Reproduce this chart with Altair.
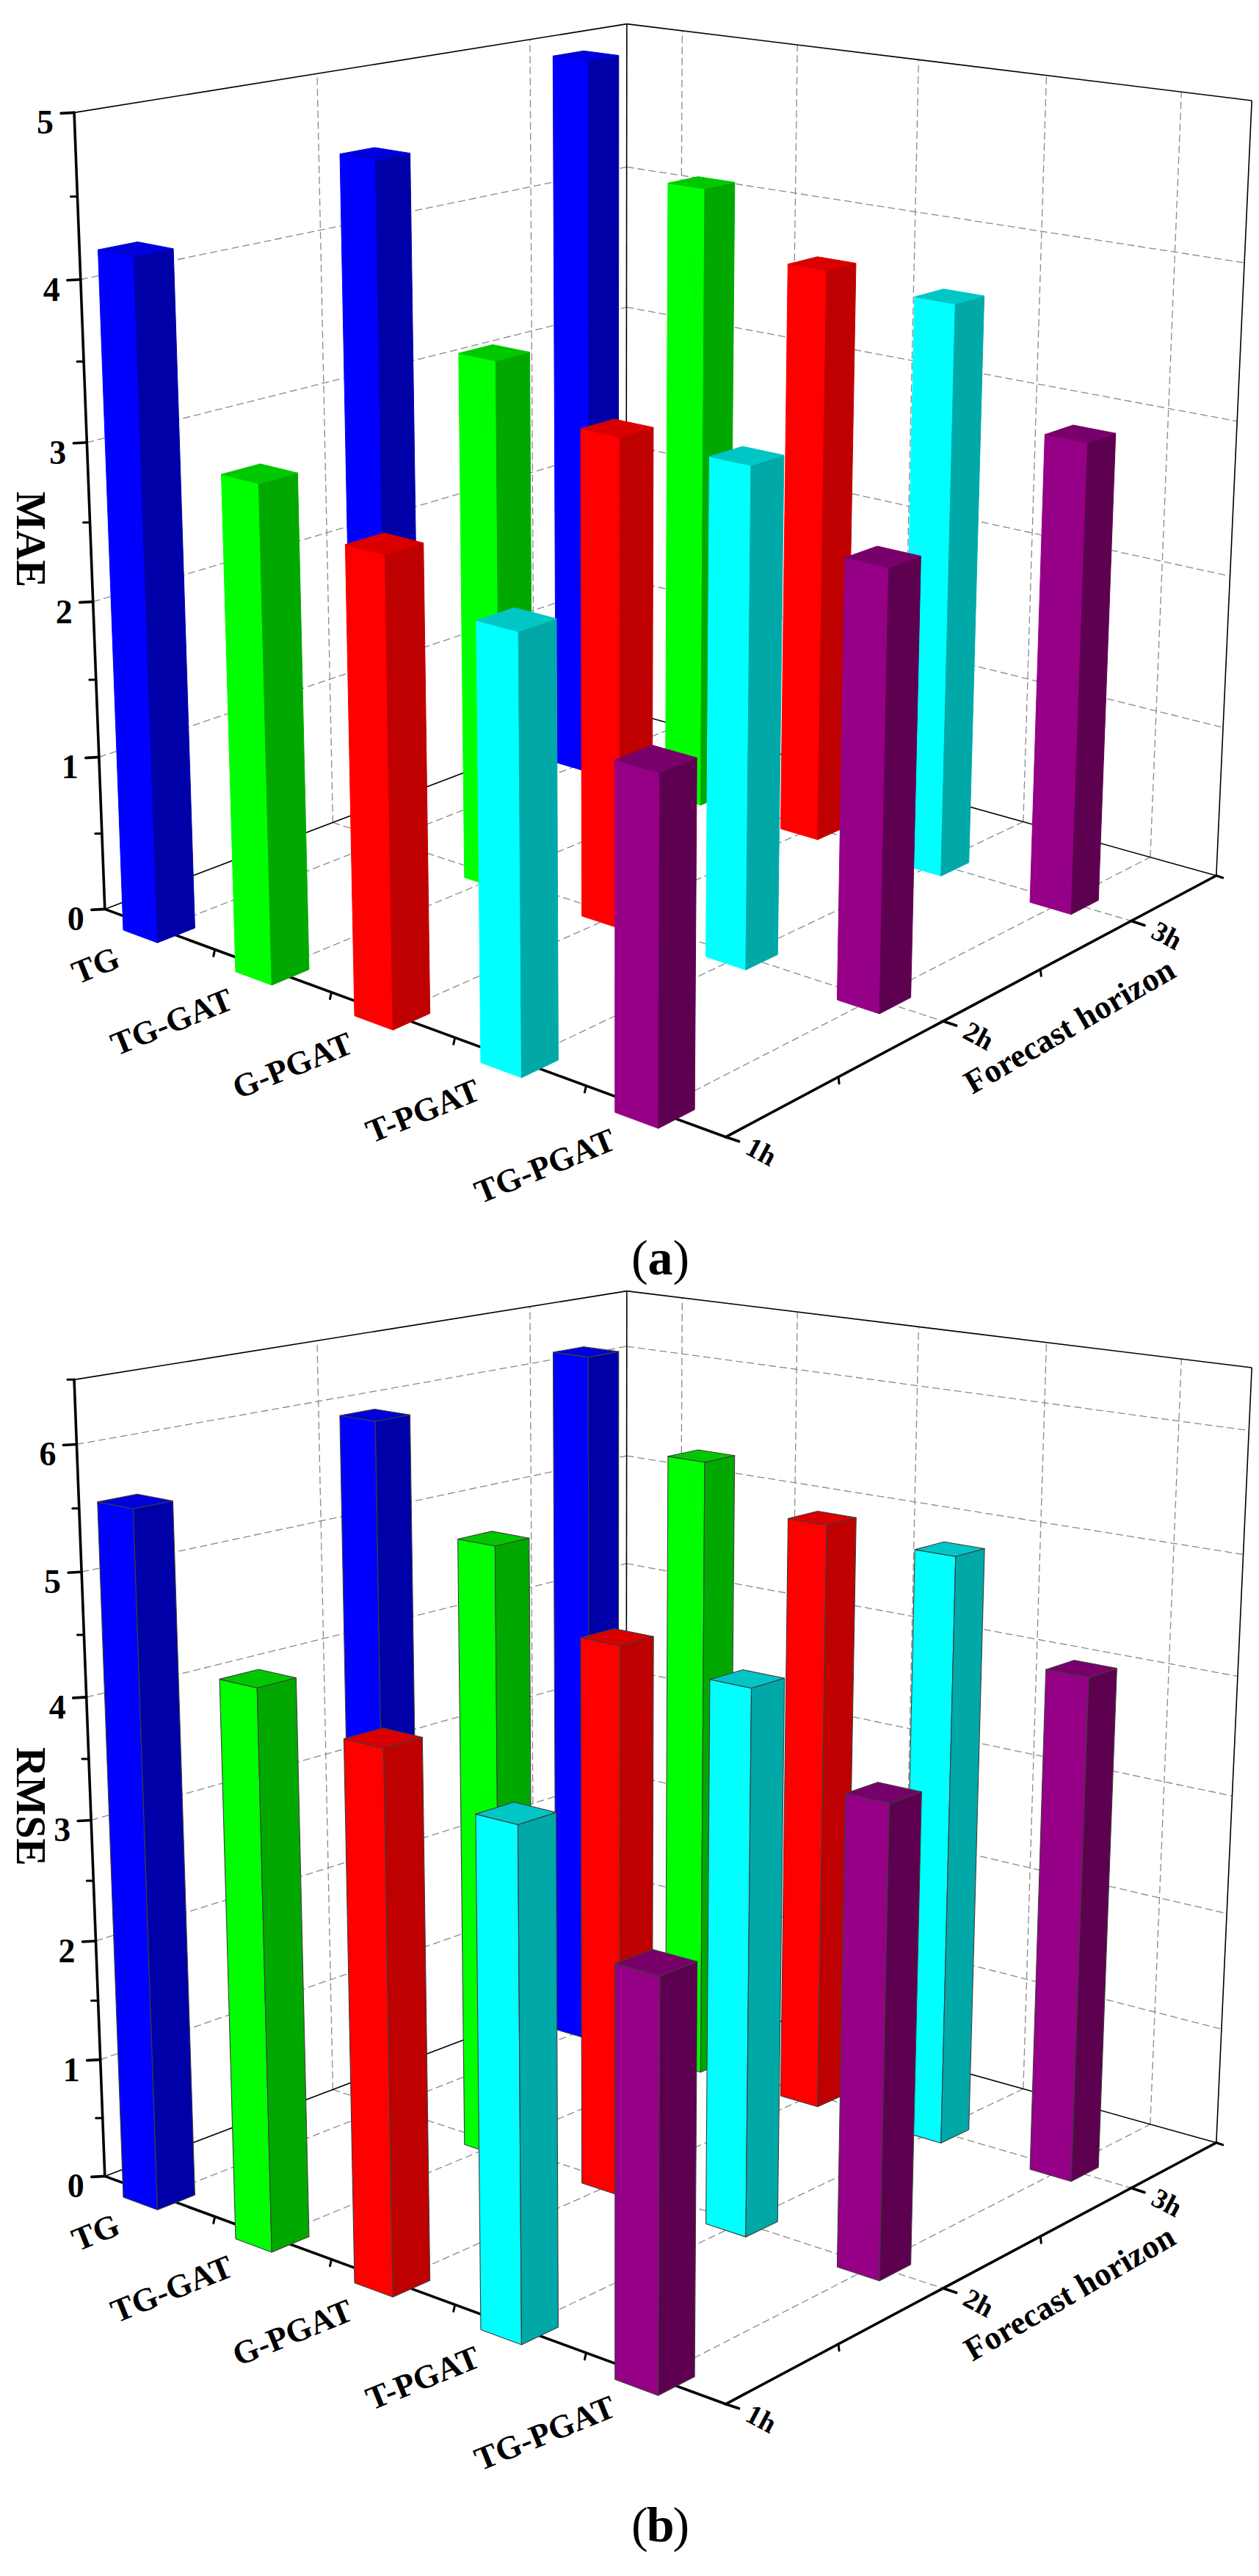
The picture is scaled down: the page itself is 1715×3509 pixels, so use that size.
import numpy as np
import pandas as pd
import altair as alt

alt.data_transformers.disable_max_rows()

# ---------------- data ----------------
models = ["TG", "TG-GAT", "G-PGAT", "T-PGAT", "TG-PGAT"]
horizons = ["1h", "2h", "3h"]

mae_1h = [4.25, 3.07, 2.84, 2.60, 2.03]
mae_2h = [4.55, 3.43, 3.12, 3.12, 2.70]
mae_3h = [4.94, 4.21, 3.81, 3.74, 3.03]

rmse_1h = [5.64, 4.47, 4.24, 3.92, 3.10]
rmse_2h = [5.96, 5.12, 4.52, 4.40, 3.75]
rmse_3h = [6.17, 5.42, 5.06, 4.98, 4.20]

mae_ticks = [0, 1, 2, 3, 4, 5]
rmse_ticks = [0, 1, 2, 3, 4, 5, 6]
mae_max = 5.0
rmse_max = 6.5

# ---------------- style ----------------
front_cols = ["#0000FF", "#00FF00", "#FF0000", "#00FFFF", "#960086"]
side_cols = ["#0000A8", "#00A800", "#BE0000", "#00A8A8", "#5E0050"]
top_cols = ["#0000DA", "#00C800", "#DA0000", "#00C6C6", "#78006B"]
FONT = "Liberation Serif"

W, H = 1699, 3490          # plot area (page minus 8px margins)
PANEL_B_SHIFT = 1726       # vertical offset of panel (b)
WX, WY = 0.155, 0.077      # bar half-width (model dir) / half-depth (horizon dir)
BOX_TOP = 5.0              # box height in box units

# 3D box extent: model axis 0.5..5.5, horizon axis 1..3.5, height 0..5
X0, X1 = 0.5, len(models) + 0.5
Y0, Y1 = 1.0, len(horizons) + 0.5

# Camera calibration: box reference points (box units) -> page pixels
anchor_world = [
    (0.5, 1, 0), (0.5, 1, 2), (0.5, 1, 3), (0.5, 3.5, 5), (0.5, 3.5, 4),
    (0.5, 3.5, 3), (0.5, 3.5, 0), (1, 3.5, 5), (2, 3.5, 5), (3, 3.5, 5),
    (4, 3.5, 5), (5, 3.5, 5), (5.5, 3.5, 5), (5.5, 3.5, 4), (5.5, 3.5, 1),
    (5.5, 3.5, 0), (5.5, 1, 0), (5.5, 2, 0), (5.5, 3, 0), (5, 3.5, 0),
    (1.5, 1, 0), (2.5, 1, 0), (5.5, 1.5, 0), (5.5, 2.5, 0), (0.5, 1, 5),
    (0.5, 2, 5), (0.5, 3, 5),
]
anchor_px = [
    (145, 1237), (128, 820), (118, 602), (854, 32), (854, 228),
    (854, 418), (854, 970), (929, 41), (1086, 61), (1251, 81),
    (1426, 103), (1610, 126), (1705, 137), (1695, 358), (1665, 990),
    (1657, 1193), (987, 1547), (1284, 1391), (1538, 1255), (1565, 1167),
    (290, 1293), (448, 1353), (1147, 1467), (1422, 1322), (101, 155),
    (432, 101), (721, 53),
]


def fit_camera(world, px):
    Wd = np.asarray(world, float)
    Im = np.asarray(px, float)
    mi = Im.mean(0)
    si = np.sqrt(2) / np.linalg.norm(Im - mi, axis=1).mean()
    Ti = np.array([[si, 0, -si * mi[0]], [0, si, -si * mi[1]], [0, 0, 1]])
    mw = Wd.mean(0)
    sw = np.sqrt(3) / np.linalg.norm(Wd - mw, axis=1).mean()
    Tw = np.eye(4)
    Tw[:3, :3] *= sw
    Tw[:3, 3] = -sw * mw
    In = (Ti @ np.c_[Im, np.ones(len(Im))].T).T
    Wn = (Tw @ np.c_[Wd, np.ones(len(Wd))].T).T
    A = []
    for (X, Y, Z, O), (u, v, _) in zip(Wn, In):
        A.append([X, Y, Z, O, 0, 0, 0, 0, -u * X, -u * Y, -u * Z, -u * O])
        A.append([0, 0, 0, 0, X, Y, Z, O, -v * X, -v * Y, -v * Z, -v * O])
    _, _, Vt = np.linalg.svd(np.array(A))
    Pn = Vt[-1].reshape(3, 4)
    Pm = np.linalg.inv(Ti) @ Pn @ Tw
    if (Pm @ np.r_[mw, 1.0])[2] < 0:
        Pm = -Pm
    return Pm


P = fit_camera(anchor_world, anchor_px)


def proj(X, Y, Z, dy=0.0):
    h = P @ np.array([X, Y, Z, 1.0])
    return (h[0] / h[2], h[1] / h[2] + dy)


def depth(X, Y, Z):
    return (P @ np.array([X, Y, Z, 1.0]))[2]


grid_rows, edge_rows, axis_rows, tmaj_rows, tmin_rows = [], [], [], [], []
bar_rows_a, bar_rows_b = [], []
zlab, mlab, hlab, htitle, ztitle, cap_l, cap_m, cap_r = [], [], [], [], [], [], [], []


def add_seg(rows, tag, a, b):
    k = len(rows) // 2
    rows.append({"seg": f"{tag}{k}", "i": 0, "px": a[0], "py": a[1]})
    rows.append({"seg": f"{tag}{k}", "i": 1, "px": b[0], "py": b[1]})


def build_panel(vals_by_h, ticks, zmax, dy, tag, bar_rows, title, caption):
    zs = BOX_TOP / zmax

    def pr(X, Y, Z):
        return proj(X, Y, Z, dy)

    # dashed grid on walls and floor
    for t in ticks:
        if 0 < t < zmax:
            z = t * zs
            add_seg(grid_rows, tag + "g", pr(X0, Y0, z), pr(X0, Y1, z))
            add_seg(grid_rows, tag + "g", pr(X0, Y1, z), pr(X1, Y1, z))
    for j in range(1, len(horizons)):
        Y = j + 1
        add_seg(grid_rows, tag + "g", pr(X0, Y, 0), pr(X0, Y, BOX_TOP))
        add_seg(grid_rows, tag + "g", pr(X0, Y, 0), pr(X1, Y, 0))
    for i in range(len(models)):
        X = i + 1
        add_seg(grid_rows, tag + "g", pr(X, Y1, 0), pr(X, Y1, BOX_TOP))
        add_seg(grid_rows, tag + "g", pr(X, Y0, 0), pr(X, Y1, 0))

    # thin box edges
    for a, b in [((X0, Y0, BOX_TOP), (X0, Y1, BOX_TOP)),
                 ((X0, Y1, 0), (X0, Y1, BOX_TOP)),
                 ((X0, Y1, BOX_TOP), (X1, Y1, BOX_TOP)),
                 ((X1, Y1, 0), (X1, Y1, BOX_TOP)),
                 ((X0, Y0, 0), (X0, Y1, 0)),
                 ((X0, Y1, 0), (X1, Y1, 0))]:
        add_seg(edge_rows, tag + "e", pr(*a), pr(*b))

    # thick axes
    for a, b in [((X0, Y0, 0), (X0, Y0, BOX_TOP)),
                 ((X0, Y0, 0), (X1, Y0, 0)),
                 ((X1, Y0, 0), (X1, Y1, 0))]:
        add_seg(axis_rows, tag + "a", pr(*a), pr(*b))

    # value axis ticks and labels
    for t in ticks:
        p = pr(X0, Y0, t * zs)
        add_seg(tmaj_rows, tag + "t", p, (p[0] - 18, p[1] + 1))
        zlab.append({"px": p[0] - 28, "py": p[1] + 15, "text": str(t)})
    h = 0.5
    while h <= zmax + 1e-9:
        if abs(h - round(h)) > 1e-9:
            p = pr(X0, Y0, h * zs)
            add_seg(tmin_rows, tag + "m", p, (p[0] - 9, p[1]))
        h += 0.5
    # model axis minor ticks + labels
    for i in range(len(models) - 1):
        p = pr(i + 1.5, Y0, 0)
        add_seg(tmin_rows, tag + "m", p, (p[0] - 2, p[1] + 9))
    for i, m in enumerate(models):
        p = pr(i + 1, Y0, 0)
        mlab.append({"px": p[0] - 56, "py": p[1] + 38, "text": m})
    # horizon axis ticks + labels
    for j, hz in enumerate(horizons):
        p = pr(X1, j + 1, 0)
        add_seg(tmaj_rows, tag + "t", p, (p[0] + 18, p[1] + 6))
        hlab.append({"px": p[0] + 30, "py": p[1] + 12, "text": hz})
    for j in range(len(horizons) - 1):
        p = pr(X1, j + 1.5, 0)
        add_seg(tmin_rows, tag + "m", p, (p[0] + 1, p[1] + 9))
    p = pr(X1, Y1, 0)
    add_seg(tmin_rows, tag + "m", p, (p[0] + 9, p[1] + 3))

    p = pr(X1, (Y0 + Y1) / 2 + 0.25, 0)
    htitle.append({"px": p[0] + 40, "py": p[1] + 78, "text": "Forecast horizon"})
    p = pr(X0, Y0, BOX_TOP / 2)
    ztitle.append({"px": p[0] - 83, "py": p[1] + 23, "text": title})
    p = pr(X1, Y0, 0)
    cx, cy = p[0] - 89, p[1] + 167
    cap_l.append({"px": cx - 17, "py": cy, "text": "("})
    cap_m.append({"px": cx, "py": cy, "text": caption})
    cap_r.append({"px": cx + 17, "py": cy, "text": ")"})

    # bars, painted far to near
    bars = []
    for j, vals in enumerate(vals_by_h):
        for i, v in enumerate(vals):
            X, Y = i + 1, j + 1
            bars.append((depth(X, Y, BOX_TOP / 2), i, X, Y, v * zs))
    bars.sort(key=lambda b: -b[0])
    for _, i, X, Y, zt in bars:
        faces = [
            (front_cols[i], [(X - WX, Y - WY, 0), (X + WX, Y - WY, 0),
                             (X + WX, Y - WY, zt), (X - WX, Y - WY, zt)]),
            (side_cols[i], [(X + WX, Y - WY, 0), (X + WX, Y + WY, 0),
                            (X + WX, Y + WY, zt), (X + WX, Y - WY, zt)]),
            (top_cols[i], [(X - WX, Y - WY, zt), (X + WX, Y - WY, zt),
                           (X + WX, Y + WY, zt), (X - WX, Y + WY, zt)]),
        ]
        for col, verts in faces:
            pid = f"{tag}p{len(bar_rows):05d}"
            for k, vtx in enumerate(verts + [verts[0]]):
                q = pr(*vtx)
                bar_rows.append({"poly": pid, "k": k, "px": q[0], "py": q[1], "col": col})


build_panel([mae_1h, mae_2h, mae_3h], mae_ticks, mae_max, 0.0, "A", bar_rows_a, "MAE", "a")
build_panel([rmse_1h, rmse_2h, rmse_3h], rmse_ticks, rmse_max, PANEL_B_SHIFT, "B", bar_rows_b, "RMSE", "b")

xs = alt.Scale(domain=[8, 8 + W], nice=False, zero=False)
ys = alt.Scale(domain=[8, 8 + H], nice=False, zero=False, reverse=True)
X_ = alt.X("px:Q", scale=xs, axis=None)
Y_ = alt.Y("py:Q", scale=ys, axis=None)


def seg_layer(rows, **mk):
    return alt.Chart(pd.DataFrame(rows)).mark_line(**mk).encode(
        x=X_, y=Y_, detail="seg:N", order="i:Q")


def text_layer(rows, **mk):
    return alt.Chart(pd.DataFrame(rows)).mark_text(font=FONT, **mk).encode(
        x=X_, y=Y_, text="text:N")


grid = seg_layer(grid_rows, color="#8a8a8a", strokeWidth=1.3, strokeDash=[10, 5])
edges = seg_layer(edge_rows, color="#000000", strokeWidth=1.6)
axes = seg_layer(axis_rows, color="#000000", strokeWidth=3.6, strokeCap="round")
tmaj = seg_layer(tmaj_rows, color="#000000", strokeWidth=3.6, strokeCap="round")
tmin = seg_layer(tmin_rows, color="#000000", strokeWidth=3.0, strokeCap="round")

bars_a = alt.Chart(pd.DataFrame(bar_rows_a)).mark_line(
    filled=True, strokeWidth=1, strokeJoin="round").encode(
    x=X_, y=Y_, detail="poly:N", order="k:Q",
    fill=alt.Fill("col:N", scale=None, legend=None),
    stroke=alt.Stroke("col:N", scale=None, legend=None))
bars_b = alt.Chart(pd.DataFrame(bar_rows_b)).mark_line(
    filled=True, stroke="#3c3c3c", strokeWidth=1.1, strokeJoin="round").encode(
    x=X_, y=Y_, detail="poly:N", order="k:Q",
    fill=alt.Fill("col:N", scale=None, legend=None))

zl = text_layer(zlab, fontSize=46, fontWeight="bold", align="right", baseline="middle")
ml = text_layer(mlab, fontSize=45, fontWeight="bold", align="right", baseline="middle", angle=338)
hl = text_layer(hlab, fontSize=38, fontWeight="bold", align="left", baseline="middle", angle=28)
ht = text_layer(htitle, fontSize=45, fontWeight="bold", align="center", baseline="middle", angle=330)
zt = text_layer(ztitle, fontSize=56, fontWeight="bold", align="center", baseline="middle", angle=90)
c1 = text_layer(cap_l, fontSize=68, align="right", baseline="middle")
c2 = text_layer(cap_m, fontSize=68, fontWeight="bold", align="center", baseline="middle")
c3 = text_layer(cap_r, fontSize=68, align="left", baseline="middle")

chart = alt.layer(
    grid, edges, axes, tmaj, tmin, bars_a, bars_b, zl, ml, hl, ht, zt, c1, c2, c3
).properties(
    width=W, height=H, padding=0,
    autosize=alt.AutoSizeParams(type="none"),
    background="white",
).configure_view(stroke=None)

chart.save("out.html", embed_options={"renderer": "svg", "actions": False})
